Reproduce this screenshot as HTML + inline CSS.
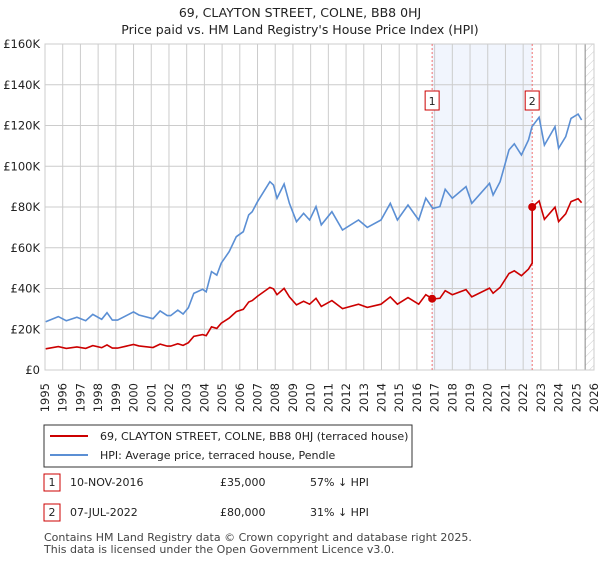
<!DOCTYPE html>
<html><head><meta charset="utf-8"><style>
body{margin:0;background:#fff;font-family:"Liberation Sans","DejaVu Sans",sans-serif;}
svg text{font-family:"DejaVu Sans","Liberation Sans",sans-serif;}
</style></head><body>
<svg id="c" width="600" height="560" xmlns="http://www.w3.org/2000/svg">
<text x="300" y="17" text-anchor="middle" font-size="12.5" fill="#222">69, CLAYTON STREET, COLNE, BB8 0HJ</text>
<text x="300" y="34" text-anchor="middle" font-size="12.5" fill="#222">Price paid vs. HM Land Registry's House Price Index (HPI)</text>
<g id="grid"></g>
<g id="marks"></g>
<rect x="44" y="425" width="368" height="42" fill="#fff" stroke="#333" stroke-width="1"/>
<line x1="50" y1="436" x2="88" y2="436" stroke="#cc0000" stroke-width="2"/>
<text x="100" y="440" font-size="11" fill="#222">69, CLAYTON STREET, COLNE, BB8 0HJ (terraced house)</text>
<line x1="50" y1="455" x2="88" y2="455" stroke="#5b8fd4" stroke-width="2"/>
<text x="100" y="459" font-size="11" fill="#222">HPI: Average price, terraced house, Pendle</text>
<rect x="44" y="474" width="16" height="17" fill="#fff" stroke="#cc0000"/>
<text x="52" y="486" text-anchor="middle" font-size="11" fill="#222">1</text>
<text x="70" y="486" font-size="11" fill="#222">10-NOV-2016</text>
<text x="220" y="486" font-size="11" fill="#222">£35,000</text>
<text x="310" y="486" font-size="11" fill="#222">57% ↓ HPI</text>
<rect x="44" y="504" width="16" height="17" fill="#fff" stroke="#cc0000"/>
<text x="52" y="516" text-anchor="middle" font-size="11" fill="#222">2</text>
<text x="70" y="516" font-size="11" fill="#222">07-JUL-2022</text>
<text x="220" y="516" font-size="11" fill="#222">£80,000</text>
<text x="310" y="516" font-size="11" fill="#222">31% ↓ HPI</text>
<text x="44" y="541" font-size="11" fill="#444">Contains HM Land Registry data © Crown copyright and database right 2025.</text>
<text x="44" y="553" font-size="11" fill="#444">This data is licensed under the Open Government Licence v3.0.</text>
</svg>
<script>
const hpiYears=[1995.04,1995.75,1996.2,1996.8,1997.3,1997.7,1998.2,1998.5,1998.8,1999.1,2000,2000.3,2001.1,2001.5,2001.9,2002.1,2002.5,2002.8,2003.1,2003.4,2003.9,2004.1,2004.4,2004.7,2004.95,2005.4,2005.8,2006.2,2006.5,2006.7,2007,2007.7,2007.9,2008.1,2008.5,2008.8,2009.2,2009.6,2009.94,2010.3,2010.6,2011.2,2011.8,2012.7,2013.2,2013.97,2014.5,2014.9,2015.5,2016.1,2016.5,2016.9,2017.3,2017.6,2018,2018.77,2019.1,2020.1,2020.3,2020.7,2021.2,2021.5,2021.9,2022.3,2022.5,2022.9,2023.2,2023.8,2024,2024.4,2024.7,2025.1,2025.3];
const hpiValues=[23.7,26.2,24.2,25.9,24.2,27.3,24.9,28.1,24.5,24.5,28.5,27,25.2,29,26.7,26.7,29.4,27.5,30.6,37.6,39.6,38.4,48.3,46.6,52.4,58.1,65.4,67.9,76.1,77.7,82.6,92.4,90.8,84.3,91.3,81.8,72.8,76.9,73.6,80.2,71.2,77.7,68.7,73.6,70,73.6,81.8,73.6,81,73.6,84.3,79.3,80.2,88.7,84.3,90,81.8,91.6,85.9,92.4,108,111,105.5,112.9,119.4,124,110.4,119.4,108.8,114.5,123.5,125.6,122.7];
const saleYears=[2016.86,2022.51];
const salePrices=[35,80];
const yTicks=[0,20,40,60,80,100,120,140,160];
const yTickLabels=["£0","£20K","£40K","£60K","£80K","£100K","£120K","£140K","£160K"];
const xTicks=[1995,1996,1997,1998,1999,2000,2001,2002,2003,2004,2005,2006,2007,2008,2009,2010,2011,2012,2013,2014,2015,2016,2017,2018,2019,2020,2021,2022,2023,2024,2025,2026];

const NS="http://www.w3.org/2000/svg";
const X0=45,X1=594,Y0=370,Y1=44;
const sx=t=>X0+(t-1995)/(2026-1995)*(X1-X0);
const sy=v=>Y0-v/160*(Y0-Y1);
function mk(tag,attrs,parent){const e=document.createElementNS(NS,tag);for(const k in attrs)e.setAttribute(k,attrs[k]);parent.appendChild(e);return e;}
const grid=document.getElementById('grid'),marks=document.getElementById('marks');
const sh=mk('rect',{x:sx(saleYears[0]),y:Y1,width:sx(saleYears[1])-sx(saleYears[0]),height:Y0-Y1,fill:'#eef3fc',opacity:0.8},grid);


const defs=mk('defs',{},grid);
const pat=mk('pattern',{id:'hatch',width:6,height:6,patternUnits:'userSpaceOnUse',patternTransform:'rotate(45)'},defs);
mk('line',{x1:0,y1:0,x2:0,y2:6,stroke:'#ccc','stroke-width':1},pat);
const ht=mk('rect',{x:sx(2025.5),y:Y1,width:X1-sx(2025.5),height:Y0-Y1,fill:'url(#hatch)'},grid);


yTicks.forEach((v,i)=>{
  const l=mk('line',{x1:X0,x2:X1,y1:sy(v),y2:sy(v),stroke:'#ccc','stroke-width':1},grid);
  
  
  const t=mk('text',{x:X0-5,y:sy(v)+4,'text-anchor':'end','font-size':11.5,fill:'#222'},grid);
  t.textContent=yTickLabels[i];
  
  
});
xTicks.forEach(y=>{
  const l=mk('line',{x1:sx(y),x2:sx(y),y1:Y1,y2:Y0,stroke:'#ccc','stroke-width':1},grid);
  
  
  const px=sx(y)+4,py=383;
  const t=mk('text',{x:px,y:py,'text-anchor':'end','font-size':11.5,fill:'#222',transform:'rotate(-90 '+px+' '+py+')'},grid);
  t.textContent=y;
  
  
});
const fl=mk('line',{x1:sx(2025.5),x2:sx(2025.5),y1:Y1,y2:Y0,stroke:'#888','stroke-width':1},grid);


const fr=mk('rect',{x:X0,y:Y1,width:X1-X0,height:Y0-Y1,fill:'none',stroke:'#ccc'},grid);


function hpiAt(t){
  if(t<=hpiYears[0])return hpiValues[0];
  for(let i=1;i<hpiYears.length;i++){if(t<=hpiYears[i]){const f=(t-hpiYears[i-1])/(hpiYears[i]-hpiYears[i-1]);return hpiValues[i-1]+f*(hpiValues[i]-hpiValues[i-1]);}}
  return hpiValues[hpiValues.length-1];
}
saleYears.forEach((s,i)=>{
  const l=mk('line',{x1:sx(s),x2:sx(s),y1:Y1,y2:Y0,stroke:'#f07070','stroke-width':1,'stroke-dasharray':'2,2'},marks);
  
  
  const bx=sx(s)-7,by=91;
  const r=mk('rect',{x:bx,y:by,width:14,height:19,fill:'#fff',stroke:'#cc0000'},marks);
  
  
  const t=mk('text',{x:sx(s),y:by+14,'text-anchor':'middle','font-size':11,fill:'#222'},marks);
  t.textContent=i+1;
});
let d='';hpiYears.forEach((t,i)=>{d+=(i?'L':'M')+sx(t).toFixed(1)+','+sy(hpiValues[i]).toFixed(1);});
const hp=mk('path',{d:d,fill:'none',stroke:'#5b8fd4','stroke-width':1.6},marks);


const pts=[];
const r0=salePrices[0]/hpiAt(saleYears[0]),r1=salePrices[1]/hpiAt(saleYears[1]);
hpiYears.forEach((t,i)=>{if(t<saleYears[1])pts.push([t,hpiValues[i]*r0]);});
pts.push([saleYears[1],hpiAt(saleYears[1])*r0]);
pts.push([saleYears[1],salePrices[1]]);
hpiYears.forEach((t,i)=>{if(t>saleYears[1])pts.push([t,hpiValues[i]*r1]);});
let d2='';pts.forEach((p,i)=>{d2+=(i?'L':'M')+sx(p[0]).toFixed(1)+','+sy(p[1]).toFixed(1);});
const pp=mk('path',{d:d2,fill:'none',stroke:'#cc0000','stroke-width':1.6},marks);


saleYears.forEach((s,i)=>{
  const c=mk('circle',{cx:sx(s),cy:sy(salePrices[i]),r:4,fill:'#cc0000'},marks);
  
  
});
</script>
</body></html>
